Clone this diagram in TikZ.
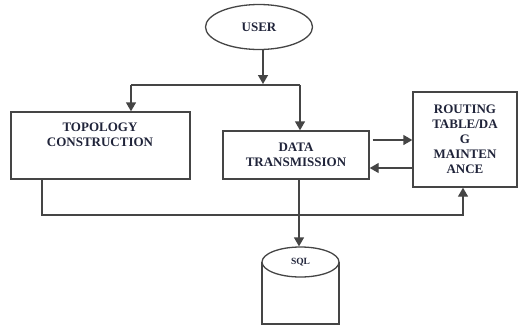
\documentclass[tikz,border=0pt]{standalone}
\usepackage{fontspec}
\setmainfont{Liberation Serif}
\usetikzlibrary{arrows.meta,shapes.geometric}
\definecolor{ink}{HTML}{454545}
\definecolor{txt}{HTML}{20243A}
\begin{document}
\begin{tikzpicture}[x=1pt,y=-1pt,
  line width=1.4pt, draw=ink,
  lbl/.style={font=\bfseries\fontsize{13}{15}\selectfont, text=txt, align=center},
  procbox/.style={draw=ink, line width=1.4pt, rectangle, inner sep=0pt},
  flow/.style={draw=ink, line width=1.4pt, -{Triangle[length=9pt,width=10pt]}}]
\useasboundingbox (0,0) rectangle (518,330);

% user ellipse
\node[draw=ink, line width=1.3pt, ellipse, minimum width=107pt, minimum height=45pt, lbl] (user) at (259,27) {USER};

% process boxes
\node[procbox, minimum width=179pt, minimum height=67pt] (topo) at (100.5,145.5) {};
\node[lbl] (topotxt) at (100,135) {TOPOLOGY\\CONSTRUCTION};

\node[procbox, minimum width=146pt, minimum height=48pt, lbl] (data) at (296,155) {DATA\\TRANSMISSION};

\node[procbox, minimum width=104pt, minimum height=95pt, lbl] (route) at (465,139.5) {ROUTING\\TABLE/DA\\G\\MAINTEN\\ANCE};

% database cylinder
\coordinate (dbl) at (262,324);
\coordinate (dbr) at (339,324);
\draw[line width=1.3pt] (262,262) -- (dbl) -- (dbr) -- (339,262);
\node[draw=ink, fill=white, line width=1.3pt, ellipse, minimum width=77pt, minimum height=30pt, inner sep=0pt] (sql) at (300.5,262) {};
\node[font=\bfseries\fontsize{9.5}{10}\selectfont, text=txt] (sqltxt) at (sql) {SQL};

% user fans out to both process boxes
\coordinate (split) at (263,85);
\coordinate (tl) at (131,85);
\coordinate (tr) at (300,85);
\draw[flow] (user.south -| split) -- (263,84);
\draw (tl) -- (tr);
\draw[flow] (tl) -- (tl |- topo.north);
\draw[flow] (tr) -- (tr |- data.north);

% data transmission <-> routing maintenance
\draw[flow] ([xshift=3pt]data.east |- 0,140) -- (route.west |- 0,140);
\draw[flow] (route.west |- 0,168) -- (data.east |- 0,168);

% topology feeds routing maintenance
\coordinate (b1) at (42,215);
\coordinate (b2) at (463,215);
\draw[flow] (b1 |- topo.south) -- (b1) -- (b2) -- (b2 |- route.south);

% data transmission stores into the database
\draw[flow] (data.south -| 299,0) -- (sql.north -| 299,0);
\end{tikzpicture}
\end{document}
